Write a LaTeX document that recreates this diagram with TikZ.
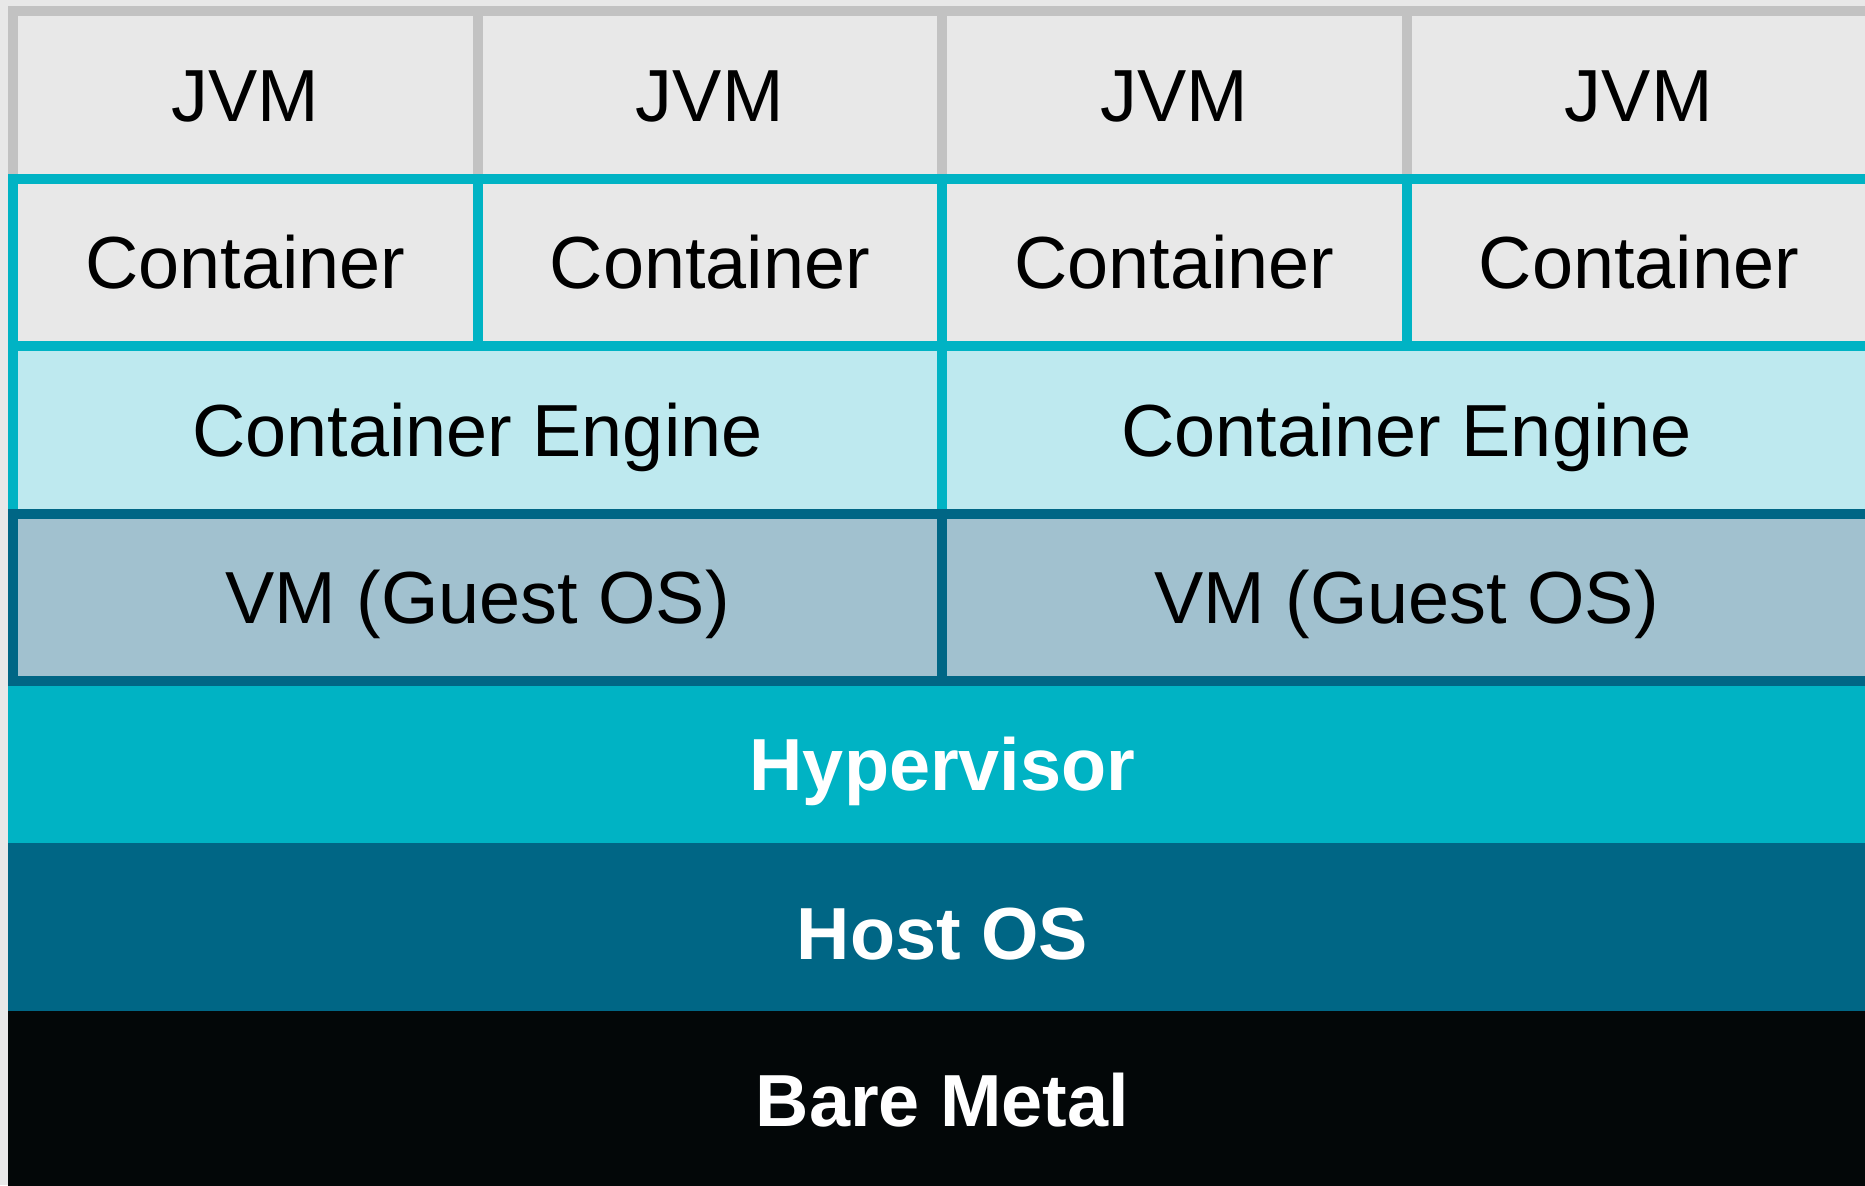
\documentclass[tikz,border=0pt]{standalone}
\usepackage{fontspec}
\setmainfont{Liberation Sans}
\usepackage{tikz}
\pgfdeclarelayer{bg}
\pgfsetlayers{bg,main}

\definecolor{boxgray}{HTML}{E8E8E8}
\definecolor{jvmgray}{HTML}{C2C2C2}
\definecolor{cyanline}{HTML}{00B3C4}
\definecolor{enginefill}{HTML}{BEE9EF}
\definecolor{vmfill}{HTML}{A1C1CF}
\definecolor{tealdark}{HTML}{006685}
\definecolor{metal}{HTML}{030708}

\begin{document}
\begin{tikzpicture}[y=-1cm,
    every node/.style={inner sep=0pt, text height=15pt, text depth=0pt,
        font=\fontsize{21}{25}\selectfont},
    cell/.style={draw=#1, line width=1mm, minimum height=1.675cm},
    jvm/.style={cell=jvmgray, fill=boxgray, minimum width=4.645cm},
    ctr/.style={cell=cyanline, fill=boxgray, minimum width=4.645cm},
    engine/.style={cell=cyanline, fill=enginefill, minimum width=9.29cm},
    guest/.style={cell=tealdark, fill=vmfill, minimum width=9.29cm},
    band/.style={fill=#1, text=white, minimum width=18.69cm,
        font=\fontsize{21}{25}\selectfont\bfseries}]

    \clip (0,0) rectangle (18.65,11.85);
    \begin{pgfonlayer}{bg}    % page background
        \fill[boxgray] (0,0) rectangle (18.65,11.85);
    \end{pgfonlayer}

    % top row, one JVM per container
    \node [jvm] (jvm1) at (2.4525,0.9475) {JVM};
    \node [jvm] (jvm2) at (7.0975,0.9475) {JVM};
    \node [jvm] (jvm3) at (11.7425,0.9475) {JVM};
    \node [jvm] (jvm4) at (16.3875,0.9475) {JVM};

    \node [ctr] (ctr1) at (2.4525,2.6225) {Container};
    \node [ctr] (ctr2) at (7.0975,2.6225) {Container};
    \node [ctr] (ctr3) at (11.7425,2.6225) {Container};
    \node [ctr] (ctr4) at (16.3875,2.6225) {Container};

    \node [engine] (eng1) at (4.775,4.2975) {Container Engine};
    \node [engine] (eng2) at (14.065,4.2975) {Container Engine};

    \node [guest] (vm1) at (4.775,5.9725) {VM (Guest OS)};
    \node [guest] (vm2) at (14.065,5.9725) {VM (Guest OS)};

    % full width layers underneath
    \node [band=cyanline, minimum height=1.57cm] (hyp) at (9.425,7.645) {Hypervisor};
    \node [band=tealdark, minimum height=1.68cm, text height=18.4pt] (host) at (9.425,9.27) {Host OS};
    \node [band=metal, minimum height=1.79cm] (metal) at (9.425,11.005) {Bare Metal};
\end{tikzpicture}
\end{document}
